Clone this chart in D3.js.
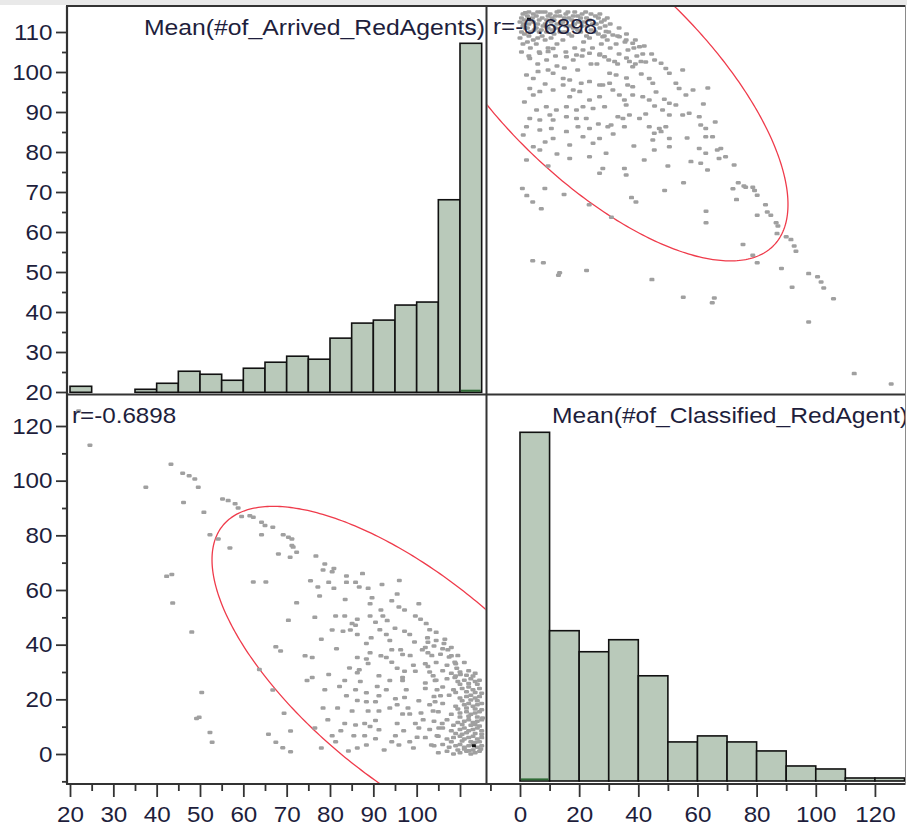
<!DOCTYPE html>
<html>
<head>
<meta charset="utf-8">
<script src="https://cdn.jsdelivr.net/npm/d3@7"></script>
<style>
  body { margin: 0; background: #fff; }
  text { font-family: "Liberation Sans", Arial, sans-serif; }
</style>
</head>
<body>
<div id="chart"></div>
<script>
// ---- data ----
var arrivedBinStart   = [20,25,30,35,40,45,50,55,60,65,70,75,80,85,90,95,100,105,110];
var arrivedCounts     = [2,0,0,1,3,7,6,4,8,10,12,11,18,23,24,29,30,64,116];
var classifiedBinStart = [0,10,20,30,40,50,60,70,80,90,100,110,120];
var classifiedCounts   = [116,50,43,47,35,13,15,13,10,5,4,1,1];

var arrivedMajor    = [20,30,40,50,60,70,80,90,100,110];
var arrivedMinor    = [25,35,45,55,65,75,85,95,105];
var arrivedBottomMinor = [25,35,45,55,65,75,85,95,105];
var classifiedMajor = [0,20,40,60,80,100,120];
var classifiedMinor = [-10,10,30,50,70,90,110];

var titleArrived    = "Mean(#of_Arrived_RedAgents)";
var titleClassified = "Mean(#of_Classified_RedAgent)";
var rLabel = "r=-0.6898";
var rValue = -0.6898;

// density ellipse (95%) parameters
var arrivedMean = 98.3, arrivedSd = 18.6;
var classifiedMean = 27.7, classifiedSd = 25.7;

// selected row
var selected = [113.2, 3];

// [arrived, classified]
var points = [
 [24.6,113],[22,125.5],[37.5,97.6],[43.3,106],[46,102.7],[47.5,101.8],[48.8,100.6],[49.6,97.6],
 [46.2,92],[50.9,88.4],[55.2,93.3],[56.5,92.7],[58.1,91.6],[58.8,90],[52.3,80.2],[54.2,78.7],
 [59.6,86.9],[61.5,87.2],[62.3,86.6],[64.2,84.8],[65,83.6],[66.8,83],[64.2,80.2],[56.9,75.4],
 [69.2,80.2],[70.4,79.3],[71.2,78.7],[71.2,76.3],[71.5,75.7],[68.1,73.2],[70.8,72],[72.3,73.8],
 [42.3,65],[43.5,65.7],[62.3,62.9],[65.2,62.9],[43.7,55.2],[72.3,55.3],[48.1,44.6],[50.4,22.5],
 [49.2,13],[49.8,13.4],[52.3,7.9],[52.8,4.3],[70.4,48.9],[67.5,39.2],[68.6,37.7],[63.7,30.9],
 [66.8,23.4],[69.4,14.9],[70.9,8.4],[65.8,7.2],[67.5,4.3],[69.1,2.3],[70.9,0.8],
 [108.8,28],[110.1,29.1],[109.25,31.4],[108.8,33.6],[108,35.9],[107.2,38.1],[106.3,40.4],[103.8,28.6],
 [102.6,32],[102.6,37],[102.6,40.9],[101.3,38.1],[102.2,47.7],[100.9,49.3],[99.7,50.5],[99.7,30.3],
 [99.25,32.5],[96.75,28],[97.2,30.3],[96.75,36.4],[96.3,38.1],[98.4,43.7],[97.2,44.9],[97.2,52.7],
 [95.9,53.8],[94.25,56.1],[95.5,31.4],[94.25,33.6],[94.25,38.1],[93.8,41.5],[93,43.7],[93.2,48.8],
 [92.2,50.5],[91.75,52.7],[91.3,28.6],[93,35.3],[91.75,35.9],[88.4,40.4],[90.5,48.2],[89.25,50.5],
 [89.25,55],[89.7,57.2],[88.8,60.6],[88.8,33.1],[88.4,34.8],[89.25,37],[86.75,30.8],[86.3,29.7],
 [86.3,35.3],[86.3,43.7],[85.9,47.1],[86.3,49.3],[86.75,61.1],[85.9,62.8],[83.4,26.9],[84.7,45.4],
 [85.1,47.7],[83.4,50.5],[83,44.9],[83.8,62.8],[83.8,65.1],[79.7,29.1],[80.5,45.4],[81.3,50.5],
 [80.9,60.6],[79.7,62.8],[80.9,67.9],[80.5,66.7],[78.8,69.5],[78.4,67.3],[76.75,72.4],[77.6,57.8],
 [77.2,61.1],[75.5,63.4],[75.9,28],[75.9,35.3],[74.25,35.9],
 [103.4,3.3],[104.7,6.7],[105.1,9.5],[105.9,11.2],[103.8,15.7],[104.25,19.1],[105.5,21.3],[104.7,23.5],
 [104.25,26.9],[99.25,2.2],[98.4,4.5],[100.1,6.1],[100.5,9.5],[99.7,11.2],[98.4,14.6],[98,16.8],
 [97.2,20.7],[97.6,23.5],[96.75,26.9],[95.9,3.3],[94.25,4.5],[95.1,6.7],[95.5,11.2],[96.75,14.6],
 [93.8,16.8],[95.1,20.2],[93,23.5],[93.8,26.9],[90.5,5.6],[91.3,8.9],[89.25,10.1],[90.5,12.3],
 [91.3,15.7],[90.5,19.1],[91.3,21.3],[90.9,24.7],[88.4,3.3],[88,6.7],[88,11.2],[88.8,15.7],
 [88.4,19.1],[88.4,22.4],[86.3,2.2],[85.5,6.7],[85.9,10.6],[85.1,15.7],[86.3,19.6],[85.9,23.5],
 [84.25,1.1],[81.3,4.5],[80.5,6.7],[83.4,11.2],[81.75,16.8],[83.8,21.3],[82.2,24.7],[78,2.2],
 [78.4,16.8],[78.8,23.5],[74.7,26.9],
 [76.5,9.5],[79.5,12.5],[82.5,8.5],[87,26.5],[92.5,1.5],[97,8.5],[101.5,12.5],[100.5,19.5],
 [102,26],[95.5,18],[84.5,31.5],[89.5,42.5],[91.5,45.5],[95,46],[99.5,41],[98.5,36],[81.5,38.5],
 [78,42],[76.5,50],[92,62],[87.5,66],[95.5,58.5],[100.5,55],[83.5,56.5],[96,63.5],
 [103,45.5],[104.5,44.5],[102.5,42.5],[104.5,41.5],[106.5,42],[102,39],[104,39.5],[106,38.5],[108,39],
 [103.5,36],[105.5,36.5],[107.5,35.5],[109.5,36],[102,33],[104.5,33.5],[107,32.5],[109,33],[111,33.5],
 [103,30],[106,30.5],[108,29.5],[110,30],[112,30.5],[113.5,29.5],
 [104.5,27],[107,27.5],[109.5,26.5],[111,27],[112.5,27.5],[113.5,26.5],[114.5,27],
 [102,24],[106,24.5],[108.5,23.5],[110.5,24],[112,24.5],[113,23.5],[114.5,24],
 [104,21],[107.5,21.5],[110,20.5],[111.5,21],[112.5,21.5],[113.5,20.5],[114.5,21],
 [103,18],[106,18.5],[109,17.5],[111,18],[112,18.5],[113,17.5],[114,18],[115,18.5],
 [101,15],[105,15.5],[108,14.5],[110,15],[111.5,15.5],[112.5,14.5],[113.5,15],[114.5,15.5],
 [104,12],[107,12.5],[109.5,11.5],[111,12],[112,12.5],[113,11.5],[114,12],[115,12.5],
 [103,9],[106,9.5],[108,8.5],[110,9],[111,9.5],[112,8.5],[113,9],[114,9.5],[115,8.5],
 [102,6],[105,6.5],[107,5.5],[108.5,6],[110,6.5],[111,5.5],[112,6],[113,6.5],[114,5.5],[115,6],
 [104,3],[106,3.5],[107.5,2.5],[109,3],[110,3.5],[111,2.5],[112,3],[113,3.5],[114,2.5],[115,3],
 [105,0.5],[107,1],[108.5,0],[110,0.5],[111.5,1],[112.5,0],[113.5,0.5],[114.5,1],
 [109.5,1.5],[111,1.8],[113,1.5],[114.8,1.8],[112,1.2],
 [108,4.5],[110.5,4.8],[112.5,4.5],[114.5,4.5],[113.5,4.2],
 [109,7.5],[111.5,7.8],[113.5,7.5],[115,7.2],[110.5,7.2],
 [108.5,10.5],[110.5,10.8],[112.5,10.5],[114.5,10.2],[113.5,10.8],
 [110,13.5],[112,13.8],[114,13.5],[115.2,13.2],
 [109.5,16.5],[111.5,16.8],[113.5,16.5],[115,16.2],
 [110.5,19.5],[112.5,19.8],[114,19.5],
 [109,22.5],[111.5,22.8],[113.5,22.5],[115,22.2],
 [110,25.5],[112,25.8],[114,25.5],
 [109,28.5],[111.5,28.8],[113,28.5]
];

// ---- layout ----
var width = 907, height = 825;
var xLeft = 67, xMid = 486.5, xRight = 905.5;
var yTop = 6, yMid = 394.5, yBottom = 784;
var ink = "#1e1e3c";

var arrX = d3.scaleLinear().domain([20,110]).range([70,460]);
var clsX = d3.scaleLinear().domain([0,130]).range([520,904.5]);
var arrY = d3.scaleLinear().domain([20,110]).range([392,32]);
var clsY = d3.scaleLinear().domain([0,120]).range([754,426]);
var histTopY = d3.scaleLinear().domain([0,116]).range([392.3,43.3]);
var histBotY = d3.scaleLinear().domain([0,116]).range([781,432.3]);

var svg = d3.select("#chart").append("svg")
    .attr("width", width)
    .attr("height", height);

svg.append("rect").attr("width", width).attr("height", height).attr("fill", "#fff");
svg.append("rect").attr("width", width).attr("height", 5).attr("fill", "#e9e9e9");

var defs = svg.append("defs");
function clip(id, x0, y0, x1, y1){
    defs.append("clipPath").attr("id", id).append("rect")
        .attr("x", x0).attr("y", y0).attr("width", x1 - x0).attr("height", y1 - y0);
    return "url(#" + id + ")";
}
var clipTL = clip("cTL", xLeft + 1, yTop + 1, xMid - 1, yMid - 1);
var clipTR = clip("cTR", xMid + 1, yTop + 1, xRight - 0.5, yMid - 1);
var clipBL = clip("cBL", xLeft + 1, yMid + 1, xMid - 1, yBottom - 1);
var clipBR = clip("cBR", xMid + 1, yMid + 1, xRight - 0.5, yBottom - 1);

function label(g, x, y, str, anchor, sx){
    return g.append("text")
        .attr("transform", "translate(" + x + "," + y + ") scale(" + (sx || 1.1) + ",1)")
        .attr("text-anchor", anchor)
        .attr("font-size", 22)
        .attr("fill", ink)
        .text(str);
}

// ---- histograms ----
function histogram(clipUrl, starts, counts, binW, xs, ys, selValue){
    var g = svg.append("g").attr("clip-path", clipUrl);
    g.selectAll("rect.bar")
        .data(counts.map(function(c, i){ return {x0: starts[i], x1: starts[i] + binW, n: c}; })
                    .filter(function(d){ return d.n > 0; }))
        .enter().append("rect")
        .attr("class", "bar")
        .attr("x", function(d){ return xs(d.x0); })
        .attr("width", function(d){ return xs(d.x1) - xs(d.x0); })
        .attr("y", function(d){ return ys(d.n); })
        .attr("height", function(d){ return ys(0) - ys(d.n); })
        .attr("fill", "#b9c9ba")
        .attr("stroke", "#111")
        .attr("stroke-width", 1.6);
    // selected row shading
    var k = starts.findIndex(function(s){ return selValue >= s && selValue < s + binW; });
    g.append("rect")
        .attr("x", xs(starts[k]) + 1)
        .attr("width", xs(starts[k] + binW) - xs(starts[k]) - 2)
        .attr("y", ys(0) - 2.6)
        .attr("height", 2)
        .attr("fill", "#2f6a35");
}
histogram(clipTL, arrivedBinStart, arrivedCounts, 5, arrX, histTopY, selected[0]);
histogram(clipBR, classifiedBinStart, classifiedCounts, 10, clsX, histBotY, selected[1]);

// ---- scatter panels ----
function ellipse(){
    var c = Math.sqrt(-2 * Math.log(0.05));
    var out = [];
    for (var i = 0; i <= 360; i++){
        var t = i / 360 * 2 * Math.PI;
        var za = Math.cos(t);
        var zc = rValue * Math.cos(t) + Math.sqrt(1 - rValue * rValue) * Math.sin(t);
        out.push([arrivedMean + c * arrivedSd * za, classifiedMean + c * classifiedSd * zc]);
    }
    return out;
}
var ell = ellipse();

function scatter(clipUrl, px, py){
    var g = svg.append("g").attr("clip-path", clipUrl);
    g.append("path")
        .datum(ell)
        .attr("d", d3.line().x(px).y(py))
        .attr("fill", "none")
        .attr("stroke", "#ef3b4b")
        .attr("stroke-width", 1.3);
    g.selectAll("rect.pt")
        .data(points)
        .enter().append("rect")
        .attr("class", "pt")
        .attr("x", function(d){ return px(d) - 2.5; })
        .attr("y", function(d){ return py(d) - 1.75; })
        .attr("width", 5).attr("height", 3.5).attr("rx", 1.2)
        .attr("fill", "#a0a0a0");
    g.append("rect")
        .attr("x", px(selected) - 2).attr("y", py(selected) - 1.5)
        .attr("width", 4).attr("height", 3)
        .attr("fill", "#111");
    return g;
}
var gTR = scatter(clipTR, function(d){ return clsX(d[1]); }, function(d){ return arrY(d[0]); });
var gBL = scatter(clipBL, function(d){ return arrX(d[0]); }, function(d){ return clsY(d[1]); });

// ---- panel texts ----
label(svg.append("g").attr("clip-path", clipTL), xMid - 1.5, 35, titleArrived, "end", 1.125);
label(svg.append("g").attr("clip-path", clipBR), 908, 423, titleClassified, "end", 1.12);
label(gTR, 493, 34, rLabel, "start");
label(gBL, 72, 423, rLabel, "start");

// ---- axes ----
function styleAxis(g){
    g.select(".domain").remove();
    g.selectAll(".tick line").attr("stroke", "#333").attr("stroke-width", 1.8);
    g.selectAll(".tick text")
        .attr("fill", ink)
        .attr("font-size", 22)
        .attr("font-family", "'Liberation Sans', Arial, sans-serif")
        .attr("transform", "scale(1.1,1)");
}
function leftAxis(scale, major, minor){
    svg.append("g").attr("transform", "translate(" + xLeft + ",0)")
        .call(d3.axisLeft(scale).tickValues(major).tickSize(11).tickPadding(2.2).tickFormat(d3.format("d")))
        .call(styleAxis);
    svg.append("g").attr("transform", "translate(" + xLeft + ",0)")
        .call(d3.axisLeft(scale).tickValues(minor).tickSize(5).tickFormat(""))
        .call(styleAxis);
}
leftAxis(arrY, arrivedMajor, arrivedMinor);
leftAxis(clsY, classifiedMajor, classifiedMinor.filter(function(v){ return v < 120; }));

function bottomAxis(scale, major, minor, fmt){
    svg.append("g").attr("transform", "translate(0," + (yBottom + 1) + ")")
        .call(d3.axisBottom(scale).tickValues(major).tickSize(12).tickPadding(9).tickFormat(fmt))
        .call(styleAxis);
    svg.append("g").attr("transform", "translate(0," + (yBottom + 1) + ")")
        .call(d3.axisBottom(scale).tickValues(minor).tickSize(6).tickFormat(""))
        .call(styleAxis);
}
bottomAxis(arrX, arrivedMajor, arrivedBottomMinor, function(d){ return d <= 100 ? d : ""; });
bottomAxis(clsX, classifiedMajor, classifiedMinor, function(d){ return d; });

// ---- frame ----
var frame = svg.append("g").attr("fill", "none");
frame.append("path").attr("d", "M" + xLeft + "," + yTop + "V" + yBottom).attr("stroke", "#333").attr("stroke-width", 2.2);
frame.append("path").attr("d", "M" + xMid + "," + yTop + "V" + yBottom).attr("stroke", "#333").attr("stroke-width", 2);
frame.append("path").attr("d", "M" + (xLeft - 1) + "," + yTop + "H" + xRight).attr("stroke", "#333").attr("stroke-width", 2.2);
frame.append("path").attr("d", "M" + (xLeft - 1) + "," + yMid + "H" + xRight).attr("stroke", "#333").attr("stroke-width", 2);
frame.append("path").attr("d", "M" + (xLeft - 1) + "," + yBottom + "H" + xRight).attr("stroke", "#333").attr("stroke-width", 2.2);
frame.append("path").attr("d", "M" + xRight + "," + yTop + "V" + yBottom).attr("stroke", "#8a8a8a").attr("stroke-width", 1);
</script>
</body>
</html>
